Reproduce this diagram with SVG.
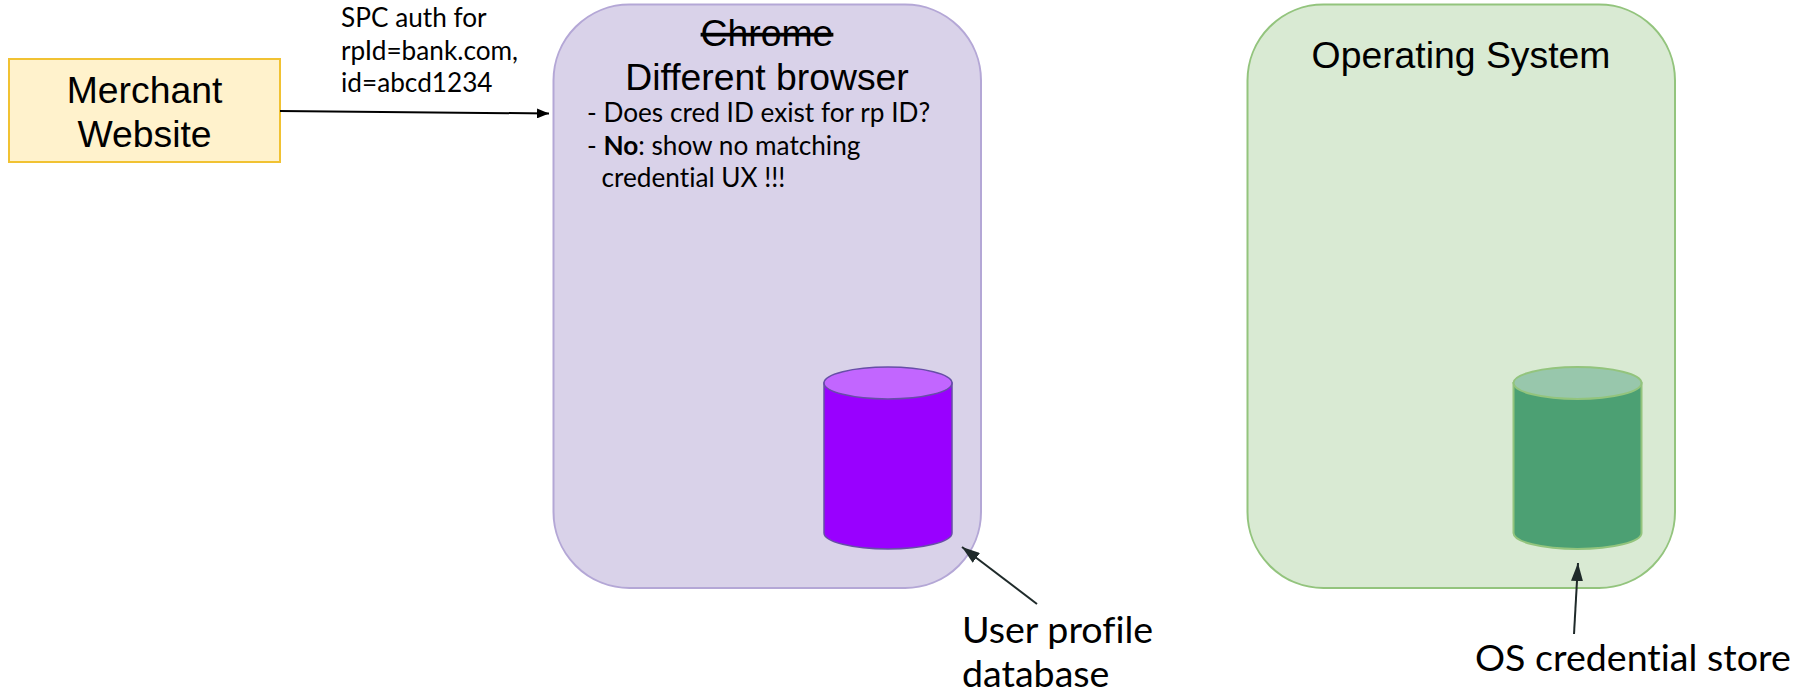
<svg xmlns="http://www.w3.org/2000/svg" width="1804" height="690" viewBox="0 0 1804 690">
<style>
.a{font-family:"Liberation Sans",Arial,sans-serif;font-size:37.33px;fill:#000;text-anchor:middle}
.b{font-family:Lato,"Open Sans",sans-serif;fill:#000;font-variant-ligatures:none}
.s{font-size:26.2px}
.l{font-size:37.6px}
.conn{fill:none;stroke-width:2}
</style>
<defs>
<marker id="ah" viewBox="0 0 12 10" refX="12" refY="5" markerWidth="12" markerHeight="10" markerUnits="userSpaceOnUse" orient="auto"><path d="M0 0L12 5L0 10Z" fill="#000"/></marker>
<marker id="ah2" viewBox="0 0 18 12" refX="18" refY="6" markerWidth="18" markerHeight="12" markerUnits="userSpaceOnUse" orient="auto"><path d="M0 0L18 6L0 12Z" fill="#1f2a2a"/></marker>
</defs>
<g id="merchant"><rect x="9" y="59" width="271" height="103" fill="#fff2cc" stroke="#f1c232" stroke-width="2"/>
<text class="a" x="144.500" y="103">Merchant</text><text class="a" x="144.500" y="147">Website</text></g>
<g id="spc-label"><text class="b s" x="341" y="27">SPC auth for</text><text class="b s" x="341" y="60">rpId=bank.com,</text><text class="b s" x="341" y="92">id=abcd1234</text></g>
<g id="browser"><rect x="553.500" y="4.500" width="427.500" height="583.500" rx="76" fill="#d9d2e9" stroke="#b4a7d6" stroke-width="2"/>
<text class="a" x="767" y="46" text-decoration="line-through">Chrome</text><text class="a" x="767" y="90">Different browser</text>
<text class="b s" x="587" y="122">- Does cred ID exist for rp ID?</text>
<text class="b s" x="587" y="155">- <tspan font-weight="700">No</tspan>: show no matching</text>
<text class="b s" x="601.500" y="187">credential UX !!!</text></g>
<g id="os"><rect x="1247.500" y="4.500" width="427.500" height="583.500" rx="76" fill="#d9ead3" stroke="#93c47d" stroke-width="2"/>
<text class="a" x="1461" y="68">Operating System</text></g>
<g id="user-db"><path d="M824 383V533A64 16 0 0 0 952 533V383Z" fill="#9900ff" stroke="#674ea7" stroke-width="1.500"/><ellipse cx="888" cy="383" rx="64" ry="16" fill="#c266ff" stroke="#674ea7" stroke-width="1.500"/></g>
<g id="os-db"><path d="M1513.500 383V533A64 16 0 0 0 1641.500 533V383Z" fill="#4ca073" stroke="#93c47d" stroke-width="2"/><ellipse cx="1577.500" cy="383" rx="64" ry="16" fill="#98c7ac" stroke="#93c47d" stroke-width="2"/></g>
<g id="connectors">
<path class="conn" d="M280 111L549 113.500" stroke="#000" marker-end="url(#ah)"/>
<path class="conn" d="M1037 604L962 547" stroke="#1f2a2a" marker-end="url(#ah2)"/>
<path class="conn" d="M1574 634L1578 563" stroke="#1f2a2a" marker-end="url(#ah2)"/>
</g>
<g id="user-label"><text class="b l" x="962" y="643">User profile</text><text class="b l" x="962" y="687">database</text></g>
<g id="os-label"><text class="b l" x="1475" y="671">OS credential store</text></g>
</svg>
